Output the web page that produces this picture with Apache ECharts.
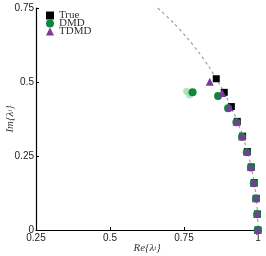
<!DOCTYPE html>
<html><head><meta charset="utf-8">
<script src="https://cdn.jsdelivr.net/npm/echarts@6/dist/echarts.min.js"></script>
<style>html,body{margin:0;padding:0;background:#fff}#c{width:266px;height:256px}</style>
</head><body><div id="c"></div>
<script>
// Tick labels
const xTicks = [0.25, 0.5, 0.75, 1];
const yTicks = [0, 0.25, 0.5, 0.75];
// True eigenvalues [Re, Im]
const trueVals = [[1.0,0.0],[0.998,0.054],[0.994,0.107],[0.987,0.160],[0.977,0.213],[0.964,0.265],[0.948,0.317],[0.930,0.367],[0.910,0.417],[0.886,0.465],[0.859,0.511]];
// DMD eigenvalues
const dmdVals = [[0.999,0.0],[0.997,0.053],[0.993,0.106],[0.986,0.158],[0.976,0.211],[0.962,0.263],[0.946,0.315],[0.927,0.364],[0.899,0.411],[0.865,0.453],[0.779,0.465]];
// DMD spread (faint)
const dmdSpread = [[0.759,0.469],[0.769,0.456]];
// TDMD eigenvalues
const tdmdVals = [[0.999,0.0],[0.997,0.054],[0.993,0.107],[0.986,0.160],[0.976,0.213],[0.963,0.265],[0.946,0.316],[0.928,0.366],[0.903,0.415],[0.879,0.463],[0.837,0.501]];
// Unit circle reference
const circleVals = [[0.6614,0.75],[0.7141,0.70],[0.7599,0.65],[0.8,0.60],[0.8352,0.55],[0.8660,0.50],[0.8930,0.45],[0.9165,0.40],[0.9367,0.35],[0.9539,0.30],[0.9682,0.25],[0.9798,0.20],[0.9887,0.15],[0.9950,0.10],[0.9987,0.05],[1.0,0.0]];

const green = '#0a8a38', purple = '#7a3a9c';
const chart = echarts.init(document.getElementById('c'));
chart.setOption({
  animation: false,
  grid: {left: 36, right: 8, top: 8, bottom: 26, containLabel: false, outerBoundsMode: 'none'},
  legend: {
    orient: 'vertical', left: 46, top: 10, itemWidth: 8, itemHeight: 8, itemGap: -3, padding: 0,
    data: [{name:'True', icon:'rect'},{name:'DMD', icon:'circle'},{name:'TDMD', icon:'triangle'}],
    textStyle: {fontFamily: 'Liberation Serif', fontSize: 11, color: '#333'}
  },
  xAxis: {
    type: 'value', min: xTicks[0], max: xTicks[xTicks.length-1], interval: 0.25,
    name: 'Re{λ{s|i}}', nameLocation: 'middle', nameGap: 13, nameMoveOverlap: false,
    nameTextStyle: {fontFamily: 'Liberation Serif', fontStyle: 'italic', fontSize: 11, color: '#333', verticalAlign: 'top',
      rich: {s: {fontSize: 7, fontStyle: 'italic', fontFamily: 'Liberation Serif'}}},
    axisLine: {lineStyle: {color: '#000', width: 1.2}},
    axisTick: {inside: true, length: 3, lineStyle: {color: '#000'}},
    axisLabel: {margin: 3, fontSize: 10, fontFamily: 'Liberation Sans', color: '#222',
      formatter: v => String(+v.toFixed(2))},
    splitLine: {show: false}
  },
  yAxis: {
    type: 'value', min: yTicks[0], max: yTicks[yTicks.length-1], interval: 0.25,
    name: 'Im{λ{s|i}}', nameLocation: 'middle', nameGap: 26, nameRotate: 90, nameMoveOverlap: false,
    nameTextStyle: {fontFamily: 'Liberation Serif', fontStyle: 'italic', fontSize: 11, color: '#333', verticalAlign: 'middle',
      rich: {s: {fontSize: 7, fontStyle: 'italic', fontFamily: 'Liberation Serif'}}},
    axisLine: {show: true, lineStyle: {color: '#000', width: 1.2}},
    axisTick: {show: true, inside: true, length: 3, lineStyle: {color: '#000'}},
    axisLabel: {margin: 2, fontSize: 10, fontFamily: 'Liberation Sans', color: '#222',
      formatter: v => String(+v.toFixed(2))},
    splitLine: {show: false}
  },
  series: [
    {name: 'circle', type: 'line', data: circleVals, symbol: 'none', smooth: 0.3, silent: true,
      lineStyle: {color: '#a0a0a0', width: 1.2, type: [3,3]}, z: 1},
    {name: 'True', type: 'scatter', data: trueVals, symbol: 'rect', symbolSize: 7, itemStyle: {color: '#000', opacity: 1}, z: 2},
    {name: 'DMDspread', type: 'scatter', data: dmdSpread, symbol: 'circle', symbolSize: 7, itemStyle: {color: '#7fd095', opacity: 0.6}, z: 2},
    {name: 'DMD', type: 'scatter', data: dmdVals, symbol: 'circle', symbolSize: 8, itemStyle: {color: green, opacity: 1}, z: 3},
    {name: 'TDMD', type: 'scatter', data: tdmdVals, symbol: 'triangle', symbolSize: 8, itemStyle: {color: purple, opacity: 1}, z: 4}
  ]
});
</script></body></html>
